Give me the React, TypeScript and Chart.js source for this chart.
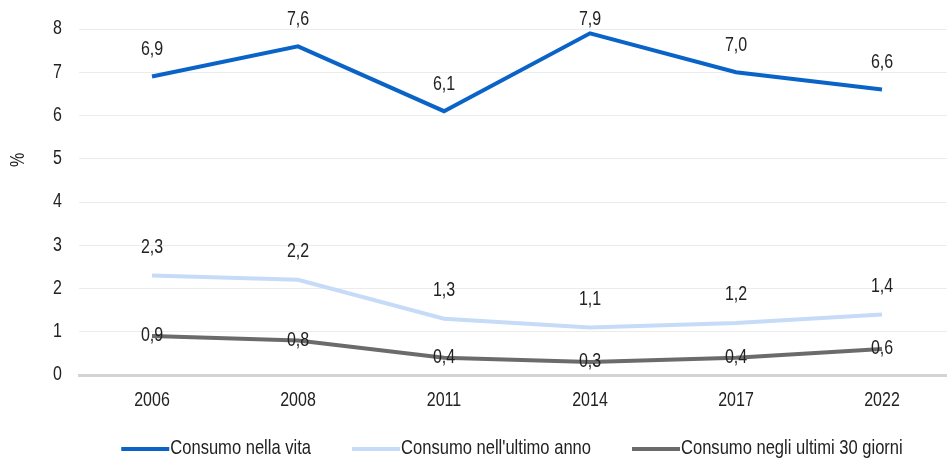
import React, { useEffect, useRef } from "react";
import { Chart, registerables } from "chart.js";

Chart.register(...registerables);

const categories = ["2006", "2008", "2011", "2014", "2017", "2022"];
const seriesNames = ["Consumo nella vita", "Consumo nell'ultimo anno", "Consumo negli ultimi 30 giorni"];
const vita = [6.9, 7.6, 6.1, 7.9, 7.0, 6.6];
const ultimoAnno = [2.3, 2.2, 1.3, 1.1, 1.2, 1.4];
const ultimi30 = [0.9, 0.8, 0.4, 0.3, 0.4, 0.6];
const colors = ["#0a64c8", "#c6dbf7", "#6b6b6b"];
const labelOffsets = [-27, -28, 0];

const FONT = "'Liberation Sans', Arial, sans-serif";
const NARROW = 0.82;
const TEXT = "#222";

function narrowText(ctx: CanvasRenderingContext2D, text: string, x: number, y: number, align: CanvasTextAlign, size: number, rotate = 0) {
  ctx.save();
  ctx.translate(x, y);
  if (rotate) ctx.rotate(rotate);
  ctx.scale(NARROW, 1);
  ctx.font = `${size}px ${FONT}`;
  ctx.textAlign = align;
  ctx.textBaseline = "middle";
  ctx.fillStyle = TEXT;
  ctx.fillText(text, 0, 0);
  ctx.restore();
}

function narrowWidth(ctx: CanvasRenderingContext2D, text: string, size: number) {
  ctx.save();
  ctx.font = `${size}px ${FONT}`;
  const w = ctx.measureText(text).width * NARROW;
  ctx.restore();
  return w;
}

const textPlugin = {
  id: "narrowTexts",
  afterDatasetsDraw(chart: any) {
    const ctx = chart.ctx as CanvasRenderingContext2D;
    const xs = chart.scales.x;
    const ys = chart.scales.y;
    ys.ticks.forEach((t: any) => {
      narrowText(ctx, String(t.value), 62, ys.getPixelForValue(t.value), "right", 19.5);
    });
    (chart.data.labels as string[]).forEach((lab, i) => {
      narrowText(ctx, lab, xs.getPixelForTick(i), 401, "center", 19.5);
    });
    narrowText(ctx, "%", 19, 160, "center", 19.5, -Math.PI / 2);
    chart.data.datasets.forEach((ds: any, i: number) => {
      const meta = chart.getDatasetMeta(i);
      meta.data.forEach((pt: any, j: number) => {
        const v = ds.data[j] as number;
        const y = Math.max(20, pt.y + labelOffsets[i]);
        narrowText(ctx, v.toFixed(1).replace(".", ","), pt.x, y, "center", 19.5);
      });
    });
    const LSIZE = 20.2;
    const marker = 48;
    const gapText = 1;
    const gapItem = 41;
    const widths = chart.data.datasets.map((ds: any) => marker + gapText + narrowWidth(ctx, ds.label, LSIZE));
    const total = widths.reduce((a: number, b: number) => a + b, 0) + gapItem * (widths.length - 1);
    let x = 512 - total / 2;
    const y = 449;
    chart.data.datasets.forEach((ds: any, i: number) => {
      ctx.save();
      ctx.strokeStyle = ds.borderColor;
      ctx.lineWidth = 4;
      ctx.beginPath();
      ctx.moveTo(x, y);
      ctx.lineTo(x + marker, y);
      ctx.stroke();
      ctx.restore();
      narrowText(ctx, ds.label, x + marker + gapText, y - 1, "left", LSIZE);
      x += widths[i] + gapItem;
    });
  },
};

export default function App() {
  const ref = useRef<HTMLCanvasElement | null>(null);
  useEffect(() => {
    document.body.style.margin = "0";
    document.body.style.overflow = "hidden";
    const chart = new Chart(ref.current!, {
      type: "line",
      data: {
        labels: categories,
        datasets: [vita, ultimoAnno, ultimi30].map((d, i) => ({
          label: seriesNames[i],
          data: d,
          borderColor: colors[i],
          backgroundColor: colors[i],
          borderWidth: 4,
          pointRadius: 0,
          tension: 0,
        })),
      },
      options: {
        animation: false,
        responsive: false,
        layout: { padding: { top: 29, right: 10, left: 0, bottom: 0 } },
        plugins: { legend: { display: false }, tooltip: { enabled: false } },
        scales: {
          x: {
            offset: true,
            grid: { display: false, drawTicks: false },
            border: { display: true, color: "#d4d4d4", width: 3 },
            ticks: { display: false },
            afterFit(scale: any) { scale.height = 84; },
          },
          y: {
            min: 0,
            max: 8,
            ticks: { stepSize: 1, display: false },
            grid: { color: "#ececec", lineWidth: 1, drawTicks: false },
            border: { display: false },
            afterFit(scale: any) { scale.width = 79; },
          },
        },
      },
      plugins: [textPlugin],
    });
    return () => chart.destroy();
  }, []);
  return (
    <div style={{ position: "absolute", left: 0, top: 0, width: 965, height: 459, background: "#fff" }}>
      <canvas ref={ref} width={965} height={459} style={{ width: 965, height: 459 }} />
    </div>
  );
}
